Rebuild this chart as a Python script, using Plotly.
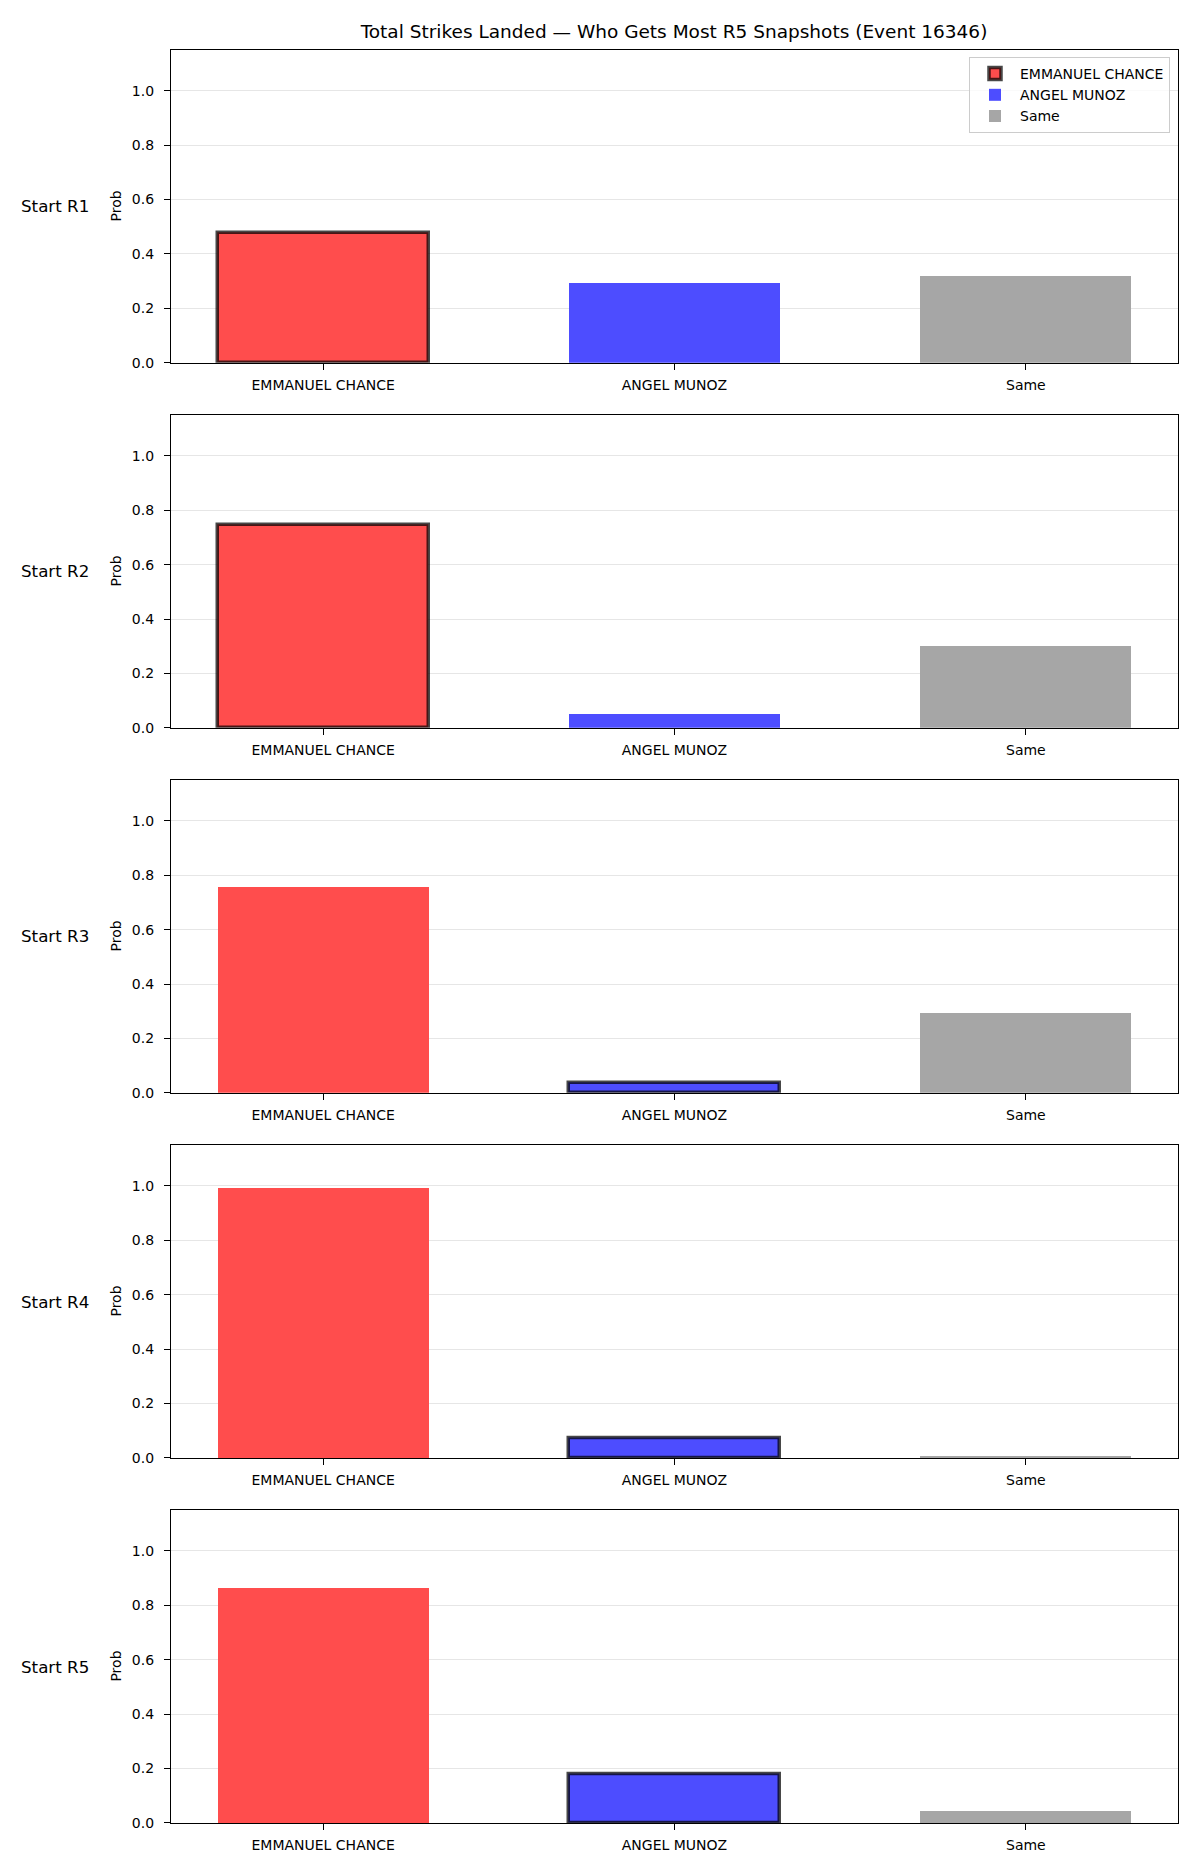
import plotly.graph_objects as go

categories = ["EMMANUEL CHANCE", "ANGEL MUNOZ", "Same"]
rounds = ["Start R1", "Start R2", "Start R3", "Start R4", "Start R5"]
emmanuel = [0.476, 0.744, 0.755, 0.993, 0.862]
angel = [0.292, 0.049, 0.036, 0.071, 0.178]
same = [0.318, 0.300, 0.292, 0.005, 0.045]
highlight = [0, 0, 1, 1, 1]  # index of outlined bar per panel

colors = ["#ff4d4d", "#4d4dff", "#a6a6a6"]
W, H = 1200, 1875
K = 0.9956  # empirical vertical correction
x0, x1 = 171 / W, 1178 / W
panels_px = [(50 + 365 * i, 50 + 365 * i + 312.7) for i in range(5)]
font = "DejaVu Sans"


def fy(px):
    return 1 - (px / K) / H


fig = go.Figure()
layout = dict(
    width=W, height=H, margin=dict(l=0, r=0, t=0, b=0),
    paper_bgcolor="white", plot_bgcolor="white",
    font=dict(family=font, size=14, color="black"),
    barmode="overlay", bargap=0,
    showlegend=True,
    legend=dict(x=1170 / W, xanchor="right", y=fy(57), yanchor="top",
                bordercolor="#cccccc", borderwidth=1, bgcolor="rgba(255,255,255,0.8)",
                font=dict(family=font, size=14), itemwidth=40, tracegroupgap=0),
    title=dict(text="Total Strikes Landed — Who Gets Most R5 Snapshots (Event 16346)",
               x=674 / W, xanchor="center", y=fy(31), yanchor="middle",
               font=dict(family=font, size=18.5, color="black")),
)
annotations = []
series = [emmanuel, angel, same]
for i, (top, bot) in enumerate(panels_px):
    k = "" if i == 0 else str(i + 1)
    for j, cat in enumerate(categories):
        hl = highlight[i] == j
        fig.add_trace(go.Bar(
            x=[cat], y=[series[j][i]], width=0.6,
            marker=dict(color=colors[j],
                        line=dict(color="rgba(0,0,0,0.72)" if hl else "rgba(0,0,0,0)",
                                  width=3.5 if hl else 0)),
            name=cat, legendgroup=cat, showlegend=(i == 0),
            xaxis="x" + k, yaxis="y" + k,
        ))
    d0, d1 = fy(bot), fy(top)
    layout["xaxis" + k] = dict(
        domain=[x0, x1], anchor="y" + k, type="category",
        categoryorder="array", categoryarray=categories,
        range=[-0.433, 2.433], showline=True, mirror=True, linecolor="black",
        linewidth=1.3, ticks="outside", ticklen=6, tickcolor="black",
        tickfont=dict(family=font, size=14), showgrid=False, ticklabelstandoff=3,
    )
    layout["yaxis" + k] = dict(
        domain=[d0, d1], anchor="x" + k, range=[0, 1.15],
        tickvals=[0, 0.2, 0.4, 0.6, 0.8, 1.0], tickformat=".1f",
        showline=True, mirror=True, linecolor="black", linewidth=1.3,
        ticks="outside", ticklen=6, tickcolor="black", ticklabelstandoff=7,
        tickfont=dict(family=font, size=14),
        showgrid=True, gridcolor="#e6e6e6", gridwidth=1, zeroline=False,
    )
    mid = (d0 + d1) / 2
    annotations.append(dict(text=rounds[i], x=91 / W, xanchor="right", y=mid, yanchor="middle",
                            xref="paper", yref="paper", showarrow=False,
                            font=dict(family=font, size=16.7, color="black")))
    annotations.append(dict(text="Prob", x=116 / W, xanchor="center", y=mid, yanchor="middle",
                            xref="paper", yref="paper", showarrow=False, textangle=-90,
                            font=dict(family=font, size=14, color="black")))
layout["annotations"] = annotations
fig.update_layout(**layout)
fig.write_html("out.html")
